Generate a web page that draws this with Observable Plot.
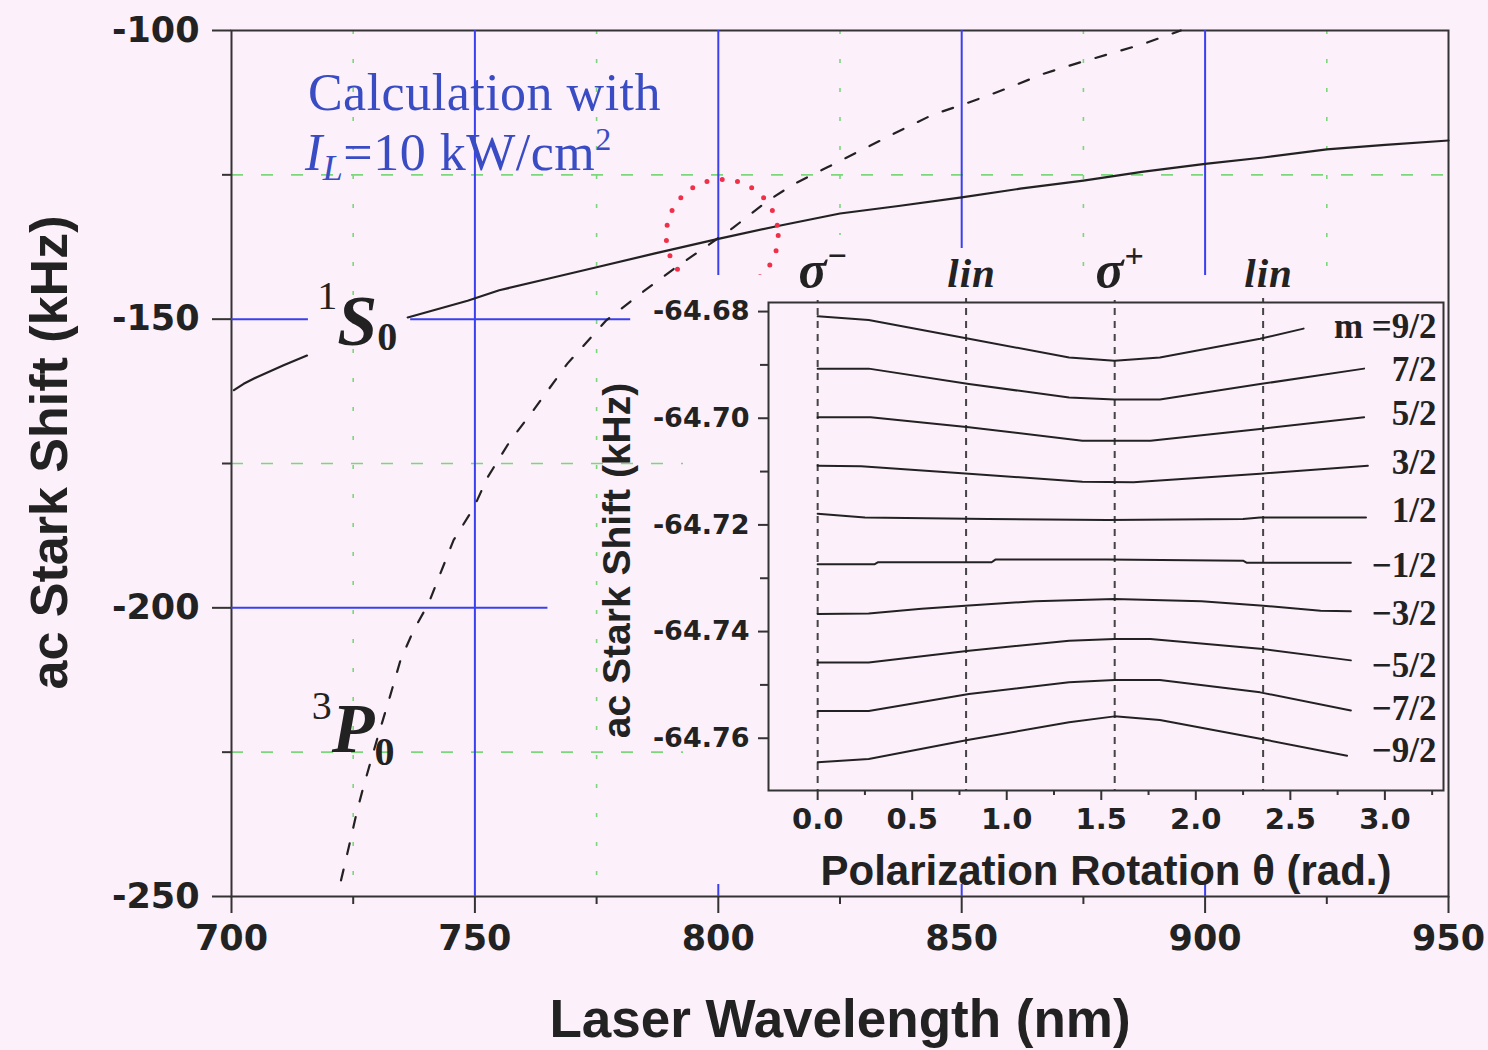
<!DOCTYPE html>
<html>
<head>
<meta charset="utf-8">
<script src="https://cdn.jsdelivr.net/npm/d3@7"></script>
<script src="https://cdn.jsdelivr.net/npm/@observablehq/plot@0.6"></script>
<style>
  html, body { margin: 0; padding: 0; background: #fcf0fa; }
  #wrap { position: relative; width: 1488px; height: 1050px; overflow: hidden; background: #fcf0fa; }
  #main { position: absolute; left: 0; top: 0; width: 1488px; height: 1050px; }
  #inset { position: absolute; left: 683px; top: 275px; width: 764px; height: 609px; }
  g[aria-label="m labels"] text { letter-spacing: 3px; }
</style>
</head>
<body>
<div id="wrap"><div id="main"></div><div id="inset"></div></div>
<script>
const BG = "#fcf0fa";
const INK = "#222222";
const BLUE = "#3a40ee";
const GREEN = "#7ad87a";
const TEXTBLUE = "#3a4cc4";

// ---------- main chart data ----------
const wavelengthTicks = [700, 750, 800, 850, 900, 950];
const wavelengthMinor = [725, 775, 825, 875, 925];
const shiftTicks = [-100, -150, -200, -250];
const shiftMinor = [-125, -175, -225];

// 1S0 (solid); NaN = interruption under the label
const s0Wavelength = [700.5, 702.5, 705.3, 710.7, 715.5, 716, 736.2, 748.5, 755, 765, 775, 787, 800, 812, 825, 837, 850, 862, 875, 887, 900, 912, 925, 937, 950];
const s0Shift = [-162.3, -161.2, -160.0, -158.0, -156.3, NaN, -149.7, -146.8, -145.0, -143.0, -141.0, -138.6, -136.1, -133.9, -131.7, -130.4, -128.9, -127.4, -126.0, -124.5, -123.1, -122.0, -120.6, -119.8, -119.05];

// 3P0 (dashed)
const p0Wavelength = [722.5, 724.5, 725.7, 727.1, 730, 732.5, 734.7, 737.4, 740.5, 745.6, 749.8, 752.6, 757.3, 762, 769, 777, 784, 791, 803, 810, 815.5, 822.4, 829.2, 836, 844, 850, 855, 860, 866.8, 874.4, 880.6, 887.4, 895];
const p0Shift = [-247.2, -240.0, -235.5, -231.0, -222.5, -215.5, -209.1, -203.9, -199.2, -188.3, -182.6, -177.4, -171.0, -165.8, -157.7, -150.2, -145.6, -141.2, -134.2, -129.6, -126.6, -123.7, -120.8, -117.9, -114.6, -112.9, -111.4, -109.8, -107.5, -105.5, -104.0, -102.3, -100.0];

const blueWavelengths = [750, 800, 850, 900];
const blueLevelShift = [-150, -150, -200];
const blueLevelFrom = [700, 736.8, 700];
const blueLevelTo = [715.8, 782, 765];

const highlightWavelength = [800.8];
const highlightShift = [-135.5];

// ---------- inset data ----------
const thetaTicks = [0, 0.5, 1, 1.5, 2, 2.5, 3];
const thetaMinor = [0.25, 0.75, 1.25, 1.75, 2.25, 2.75, 3.25];
const insetShiftTicks = [-64.68, -64.70, -64.72, -64.74, -64.76];
const insetShiftMinor = [-64.69, -64.71, -64.73, -64.75];
const polarizationTheta = [0, 0.785, 1.571, 2.356];
const polarizationNames = ["σ", "lin", "σ", "lin"];
const polarizationSigns = ["−", "", "+", ""];

const mNames = ["9/2", "7/2", "5/2", "3/2", "1/2", "-1/2", "-3/2", "-5/2", "-7/2", "-9/2"];
const mLabels = ["m =9/2", "7/2", "5/2", "3/2", "1/2", "−1/2", "−3/2", "−5/2", "−7/2", "−9/2"];
const mLabelShift = [-64.6829, -64.6909, -64.6991, -64.7083, -64.7173, -64.7276, -64.7366, -64.7464, -64.7544, -64.7623];

const m9_2  = [[0, -64.6809], [0.27, -64.6816], [0.80, -64.6851], [1.33, -64.6886], [1.57, -64.6892], [1.81, -64.6886], [2.34, -64.6851], [2.57, -64.6832]];
const m7_2  = [[0, -64.6907], [0.27, -64.6907], [0.80, -64.6936], [1.33, -64.6961], [1.57, -64.6965], [1.81, -64.6965], [2.34, -64.6936], [2.89, -64.6907]];
const m5_2  = [[0, -64.6998], [0.28, -64.6998], [0.80, -64.7017], [1.40, -64.7042], [1.57, -64.7042], [1.76, -64.7042], [2.34, -64.7020], [2.89, -64.6998]];
const m3_2  = [[0, -64.7089], [0.23, -64.7090], [0.80, -64.7104], [1.40, -64.7119], [1.67, -64.7120], [2.34, -64.7104], [2.91, -64.7089]];
const m1_2  = [[0, -64.7179], [0.25, -64.7186], [0.90, -64.7189], [1.53, -64.7191], [2.25, -64.7189], [2.34, -64.7186], [2.90, -64.7186]];
const mm1_2 = [[0, -64.7274], [0.30, -64.7274], [0.32, -64.7270], [0.92, -64.7270], [0.94, -64.7265], [1.53, -64.7265], [2.25, -64.7267], [2.27, -64.7271], [2.82, -64.7271]];
const mm3_2 = [[0, -64.7367], [0.27, -64.7366], [0.55, -64.7357], [0.80, -64.7351], [1.15, -64.7343], [1.57, -64.7339], [2.03, -64.7343], [2.34, -64.7351], [2.66, -64.7361], [2.82, -64.7362]];
const mm5_2 = [[0, -64.7458], [0.27, -64.7458], [0.80, -64.7436], [1.33, -64.7417], [1.57, -64.7414], [1.76, -64.7414], [2.34, -64.7432], [2.82, -64.7454]];
const mm7_2 = [[0, -64.7549], [0.27, -64.7549], [0.80, -64.7517], [1.33, -64.7495], [1.57, -64.7491], [1.81, -64.7491], [2.34, -64.7514], [2.82, -64.7548]];
const mm9_2 = [[0, -64.7645], [0.27, -64.7639], [0.80, -64.7603], [1.33, -64.7570], [1.57, -64.7559], [1.81, -64.7566], [2.34, -64.7601], [2.80, -64.7633]];

// ---------- build rows ----------
const s0Rows = s0Wavelength.map((w, i) => ({w, s: s0Shift[i]}));
const p0Rows = p0Wavelength.map((w, i) => ({w, s: p0Shift[i]}));
const levelRows = blueLevelShift.map((s, i) => ({s, x1: blueLevelFrom[i], x2: blueLevelTo[i]}));
const highlightRows = highlightWavelength.map((w, i) => ({w, s: highlightShift[i]}));
const insetCurves = [m9_2, m7_2, m5_2, m3_2, m1_2, mm1_2, mm3_2, mm5_2, mm7_2, mm9_2];
const insetRows = insetCurves.flatMap((c, i) => c.map(([t, v]) => ({theta: t, shift: v, m: mNames[i]})));
const mLabelRows = mLabels.map((t, i) => ({t, s: mLabelShift[i]}));

const numFont = {fontFamily: "DejaVu Sans", fontWeight: "bold"};
const sansFont = {fontFamily: "Liberation Sans, Arial, sans-serif", fontWeight: "bold"};

// ---------- main plot ----------
const main = Plot.plot({
  width: 1488, height: 1050,
  marginLeft: 231, marginRight: 40, marginTop: 30, marginBottom: 154,
  x: {domain: [700, 950]},
  y: {domain: [-250, -100]},
  style: {background: "transparent", color: INK, overflow: "visible"},
  marks: [
    Plot.ruleY(shiftMinor, {stroke: GREEN, strokeWidth: 1.6, strokeDasharray: "12 18"}),
    Plot.ruleX(wavelengthMinor, {stroke: GREEN, strokeWidth: 1.6, strokeDasharray: "4 25"}),
    Plot.axisY({ticks: shiftTicks, tickSize: 19, tickPadding: 13, tickFormat: d => String(d), fontSize: 35, ...numFont, label: null, strokeWidth: 2, stroke: "#333"}),
    Plot.axisY({ticks: shiftMinor, tickSize: 9, tickFormat: () => "", label: null, strokeWidth: 2, stroke: "#333"}),
    Plot.axisX({ticks: wavelengthTicks, tickSize: 17, tickPadding: 12, tickFormat: d => String(d), fontSize: 35, ...numFont, label: null, strokeWidth: 2, stroke: "#333"}),
    Plot.axisX({ticks: wavelengthMinor, tickSize: 8, tickFormat: () => "", label: null, strokeWidth: 2, stroke: "#333"}),
    Plot.frame({stroke: "#333", strokeWidth: 2}),
    Plot.ruleX(blueWavelengths, {stroke: BLUE, strokeWidth: 2}),
    Plot.ruleY(levelRows, {y: "s", x1: "x1", x2: "x2", stroke: BLUE, strokeWidth: 2}),
    Plot.line(s0Rows, {x: "w", y: "s", stroke: INK, strokeWidth: 2.2}),
    Plot.line(p0Rows, {x: "w", y: "s", stroke: INK, strokeWidth: 2.2, strokeDasharray: "11 16"}),
    Plot.dot(highlightRows, {x: "w", y: "s", r: 56, fill: "none", stroke: "#f03048", strokeWidth: 5, strokeDasharray: "0 15.5", strokeLinecap: "round"}),
    Plot.text(["Laser Wavelength (nm)"], {text: d => d, frameAnchor: "bottom", lineAnchor: "middle", textAnchor: "middle", dy: 124, fontSize: 53, ...sansFont, fill: INK}),
    Plot.text(["ac Stark Shift (kHz)"], {text: d => d, frameAnchor: "left", lineAnchor: "middle", textAnchor: "middle", dx: -181, dy: -11, rotate: -90, fontSize: 52, ...sansFont, fill: INK})
  ]
});
document.getElementById("main").appendChild(main);

// ---------- inset plot ----------
const inset = Plot.plot({
  width: 764, height: 609,
  marginLeft: 85, marginRight: 4, marginTop: 27, marginBottom: 94,
  x: {domain: [-0.26, 3.31]},
  y: {domain: [-64.7698, -64.6783]},
  style: {background: BG, color: INK, overflow: "visible"},
  marks: [
    Plot.ruleX(polarizationTheta, {stroke: "#444", strokeWidth: 2, strokeDasharray: "7 6", insetTop: -7}),
    Plot.line(insetRows, {x: "theta", y: "shift", z: "m", stroke: INK, strokeWidth: 2}),
    Plot.frame({stroke: "#333", strokeWidth: 2}),
    Plot.axisY({ticks: insetShiftTicks, tickSize: 10, tickPadding: 9, tickFormat: d => d.toFixed(2), fontSize: 27, ...numFont, label: null, strokeWidth: 2, stroke: "#333"}),
    Plot.axisY({ticks: insetShiftMinor, tickSize: 8, tickFormat: () => "", label: null, strokeWidth: 2, stroke: "#333"}),
    Plot.axisX({ticks: thetaTicks, tickSize: 10, tickPadding: 8, tickFormat: d => d.toFixed(1), fontSize: 29, ...numFont, label: null, strokeWidth: 2, stroke: "#333"}),
    Plot.axisX({ticks: thetaMinor, tickSize: 5, tickFormat: () => "", label: null, strokeWidth: 2, stroke: "#333"}),
    Plot.text(mLabelRows, {ariaLabel: "m labels", x: () => 3.31, y: "s", text: "t", dx: -7, textAnchor: "end", lineAnchor: "middle", fontSize: 35, fontFamily: "Liberation Serif, Times New Roman, serif", fontWeight: "bold", fill: INK}),
    Plot.text(["Polarization Rotation θ (rad.)"], {text: d => d, frameAnchor: "bottom", lineAnchor: "middle", textAnchor: "middle", dy: 81, fontSize: 42, ...sansFont, fill: INK}),
    Plot.text(["ac Stark Shift (kHz)"], {text: d => d, frameAnchor: "left", lineAnchor: "middle", textAnchor: "middle", dx: -151, dy: 14, rotate: -90, fontSize: 39, ...sansFont, fill: INK})
  ]
});
document.getElementById("inset").appendChild(inset);

// ---------- rich-text annotations ----------
function rich(svg, x, y, parts, opts = {}) {
  const t = d3.select(svg).append("text")
    .attr("x", x).attr("y", y)
    .attr("text-anchor", opts.anchor || "start")
    .attr("fill", opts.fill || INK)
    .attr("font-family", opts.family || "Liberation Serif, Times New Roman, serif");
  if (opts.spacing) t.attr("letter-spacing", opts.spacing);
  let cur = 0;
  for (const p of parts) {
    const s = t.append("tspan").text(p.t);
    const target = p.shift || 0;
    if (target !== cur) s.attr("dy", target - cur);
    cur = target;
    s.attr("font-size", p.size);
    if (p.italic) s.attr("font-style", "italic");
    if (p.bold) s.attr("font-weight", "bold");
  }
  return t;
}

const mx = main.scale("x"), my = main.scale("y");
rich(main, mx.apply(715.8), my.apply(-113.9), [{t: "Calculation with", size: 52}], {fill: TEXTBLUE, spacing: 0.5});
rich(main, mx.apply(715.2), my.apply(-124.3), [
  {t: "I", size: 52, italic: true},
  {t: "L", size: 36, italic: true, shift: 10},
  {t: "=10 kW/cm", size: 52, shift: 0},
  {t: "2", size: 32, shift: -20}
], {fill: TEXTBLUE, spacing: 0.5});
rich(main, mx.apply(717.7), my.apply(-154.6), [
  {t: "1", size: 40, shift: -36},
  {t: "S", size: 72, italic: true, bold: true, shift: 0},
  {t: "0", size: 40, bold: true, shift: 5}
]);
rich(main, mx.apply(716.6), my.apply(-225.0), [
  {t: "3", size: 40, shift: -33},
  {t: "P", size: 70, italic: true, bold: true, shift: 0},
  {t: "0", size: 40, bold: true, shift: 13}
]);

const ix = inset.scale("x");
polarizationTheta.forEach((th, i) => {
  const isLin = polarizationNames[i] === "lin";
  const parts = [{t: polarizationNames[i], size: isLin ? 41 : 52, italic: true, bold: true}];
  if (polarizationSigns[i]) parts.push({t: polarizationSigns[i], size: 34, bold: true, shift: -20});
  const t = rich(inset, ix.apply(th) + 6, 12, parts, {anchor: "middle", spacing: 1});
  const b = t.node().getBBox();
  d3.select(inset).insert("rect", () => t.node())
    .attr("x", b.x - 4).attr("y", b.y - 2).attr("width", b.width + 8).attr("height", b.height + 4)
    .attr("fill", BG);
});
</script>
</body>
</html>
